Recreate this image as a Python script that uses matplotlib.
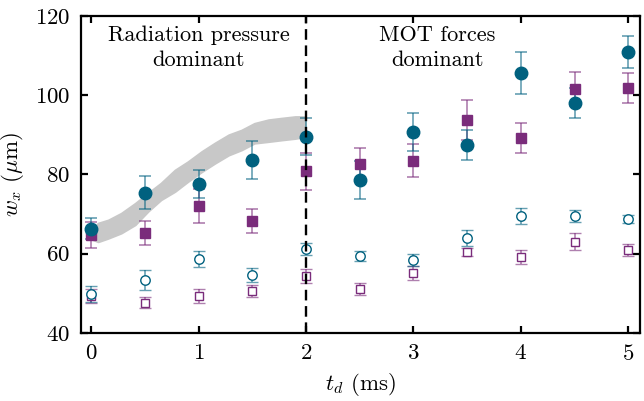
import numpy as np
import matplotlib
matplotlib.use("Agg")
import matplotlib.pyplot as plt

plt.rcParams["font.family"] = ["cmr10", "DejaVu Serif"]
plt.rcParams["mathtext.fontset"] = "cm"
plt.rcParams["axes.formatter.use_mathtext"] = True

# === Measured widths (um) vs. delay time ===
t_d = [0, 0.5, 1.0, 1.5, 2.0, 2.5, 3.0, 3.5, 4.0, 4.5, 5.0]

circ_fill = [66.3, 75.4, 77.6, 83.7, 89.5, 78.6, 90.7, 87.4, 105.6, 98.0, 110.9]
circ_fill_err = [2.6, 4.2, 3.6, 4.8, 4.7, 4.8, 4.8, 3.8, 5.2, 3.8, 4.0]

sq_fill = [64.8, 65.2, 72.0, 68.3, 80.8, 82.6, 83.5, 93.8, 89.2, 101.6, 101.9]
sq_fill_err = [3.3, 3.0, 4.2, 3.0, 4.7, 4.0, 4.2, 5.1, 3.8, 4.2, 3.8]

circ_open = [49.8, 53.4, 58.7, 54.6, 61.2, 59.4, 58.4, 64.0, 69.5, 69.5, 68.8]
circ_open_err = [1.9, 2.5, 2.0, 1.7, 1.5, 1.3, 1.6, 2.0, 2.0, 1.6, 1.0]

sq_open = [49.3, 47.6, 49.3, 50.6, 54.4, 51.1, 55.1, 60.4, 59.2, 63.0, 61.0]
sq_open_err = [1.8, 1.4, 1.8, 1.6, 1.7, 1.5, 1.7, 1.0, 1.8, 2.2, 1.5]

# simulated width band (radiation pressure regime)
band_t = [0.02, 0.065, 0.16, 0.28, 0.41, 0.53, 0.65, 0.78, 0.90, 1.03, 1.15,
          1.28, 1.40, 1.52, 1.65, 1.77, 1.90, 1.99]
band_lo = [63.5, 63.0, 63.9, 65.2, 67.3, 70.7, 73.6, 75.7, 78.2, 80.7, 82.8,
           84.9, 86.2, 87.9, 88.3, 88.7, 89.1, 89.5]
band_hi = [66.5, 67.7, 68.5, 70.2, 72.7, 75.3, 77.8, 81.1, 83.2, 85.8, 87.9,
           90.0, 91.2, 92.9, 93.8, 94.2, 94.6, 94.6]

blue = "#00617f"
purple = "#7a2c7b"
blue_err = (0.0, 0.38, 0.5, 0.6)
purple_err = (0.48, 0.17, 0.48, 0.6)

fig = plt.figure(figsize=(6.44, 4.01), dpi=100)
ax = fig.add_axes([0.126, 0.170, 0.868, 0.790])

ax.fill_between(band_t, band_lo, band_hi, color="#c8c8c8", lw=1.5,
                edgecolor="#c8c8c8", joinstyle="round", zorder=1)

ax.axvline(2, color="black", ls=(0, (4.5, 2.4)), lw=1.7, zorder=4)

eb = dict(ls="none", elinewidth=1.2, capsize=4, capthick=1.2, zorder=3)
ax.errorbar(t_d, sq_open, yerr=sq_open_err, marker="s", ms=5.2, mfc="white",
            mec=purple, mew=1.0, color=purple, ecolor=purple_err, **eb)
ax.errorbar(t_d, circ_open, yerr=circ_open_err, marker="o", ms=6.8, mfc="white",
            mec=blue, mew=1.0, color=blue, ecolor=blue_err, **eb)
ax.errorbar(t_d, sq_fill, yerr=sq_fill_err, marker="s", ms=6.8, mfc=purple,
            mec=purple, color=purple, ecolor=purple_err, **eb)
ax.errorbar(t_d, circ_fill, yerr=circ_fill_err, marker="o", ms=9, mfc=blue,
            mec=blue, color=blue, ecolor=blue_err, **eb)

ax.text(1.0, 112.0, "Radiation pressure\ndominant", ha="center", va="center",
        fontsize=16, linespacing=1.35)
ax.text(3.22, 112.0, "MOT forces\ndominant", ha="center", va="center",
        fontsize=16, linespacing=1.35)

ax.set_xlim(-0.093, 5.11)
ax.set_ylim(40, 120)
ax.set_xticks([0, 1, 2, 3, 4, 5])
ax.set_yticks([40, 60, 80, 100, 120])
ax.tick_params(direction="in", length=5, width=1.6, top=True, right=True,
               labelsize=16.5, pad=8)
for s in ax.spines.values():
    s.set_linewidth(1.6)

ax.set_xlabel(r"$t_d$ (ms)", fontsize=16.5, labelpad=5)
ax.set_ylabel(r"$w_x$ ($\mu$m)", fontsize=16.5, labelpad=6)

fig.savefig("out.png", dpi=100)
